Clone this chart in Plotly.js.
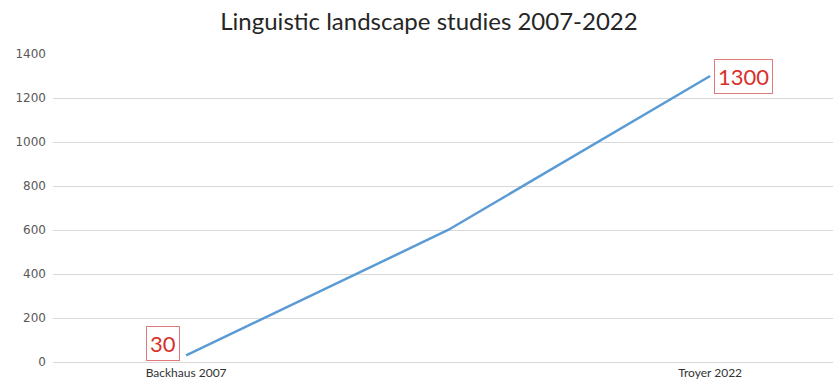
<!DOCTYPE html>
<html>
<head>
<meta charset="utf-8">
<script src="https://cdn.plot.ly/plotly-3.0.1.min.js"></script>
<style>html,body{margin:0;padding:0;background:#fff;}#chart{width:833px;height:385px;}</style>
</head>
<body>
<div id="chart"></div>
<script>
const xPositions = [0, 1, 2];
const studies = [30, 600, 1300];
const tickPositions = [0, 2];
const tickLabels = ["Backhaus 2007", "Troyer 2022"];
const labelIndices = [0, 2];
const labelShiftX = [-23, 33];
const labelShiftY = [12, 0];

const annotations = labelIndices.map((idx, k) => ({
  x: xPositions[idx], y: studies[idx], xref: 'x', yref: 'y',
  text: String(studies[idx]), showarrow: false,
  xshift: labelShiftX[k], yshift: labelShiftY[k],
  font: {family: 'Lato, sans-serif', size: 22, color: '#d9302c'},
  bordercolor: '#e07a78', borderwidth: 1, borderpad: 3, bgcolor: '#ffffff'
}));

Plotly.newPlot('chart', [{
  x: xPositions, y: studies, type: 'scatter', mode: 'lines',
  line: {color: '#5b9bd5', width: 2.5}, hoverinfo: 'skip'
}], {
  width: 833, height: 385,
  margin: {l: 53, r: 0, t: 54, b: 23},
  paper_bgcolor: '#ffffff', plot_bgcolor: '#ffffff',
  title: {text: 'Linguistic landscape studies 2007-2022', x: 0.515, xanchor: 'center', y: 0.943, yanchor: 'middle',
    font: {family: 'Lato, sans-serif', size: 24, color: '#262626'}},
  showlegend: false,
  xaxis: {range: [-0.508, 2.469], tickvals: tickPositions, ticktext: tickLabels, showgrid: false, zeroline: false,
    showline: true, linecolor: '#d9d9d9', linewidth: 1, ticks: '', ticklen: 0,
    tickfont: {family: 'Lato, sans-serif', size: 12, color: '#333333'}},
  yaxis: {range: [0, 1400], dtick: 200, showgrid: true, gridcolor: '#d9d9d9', gridwidth: 1, zeroline: false,
    ticks: '', ticklabelstandoff: 6, tickfont: {family: 'DejaVu Sans, sans-serif', size: 12, color: '#595959'}},
  annotations: annotations
}, {displayModeBar: false, staticPlot: true});
</script>
</body>
</html>
